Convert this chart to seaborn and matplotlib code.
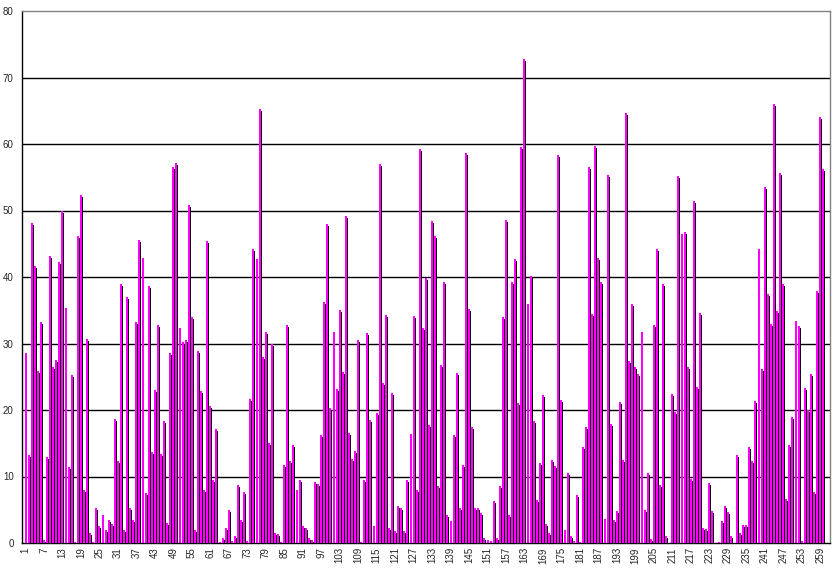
#!/usr/bin/env python3
"""Recreate the magenta column chart (260 bars, 0-80 scale) as out.png."""

import matplotlib

matplotlib.use("Agg")

import matplotlib.pyplot as plt
import numpy as np
import pandas as pd
import seaborn as sns

# bar values (index 1..260)
values = [
    28.5, 13.3, 48.1, 41.6, 25.9, 33.2, 0.4, 12.9, 43.2, 26.4,
    27.5, 42.3, 49.9, 35.3, 11.4, 25.3, 0.2, 46.2, 52.3, 7.9,
    30.7, 1.5, 0.2, 5.2, 2.6, 4.2, 1.9, 3.4, 2.9, 18.6,
    12.4, 39.0, 1.9, 37.0, 5.2, 3.4, 33.2, 45.6, 42.9, 7.5,
    38.6, 13.7, 23.0, 32.8, 13.4, 18.3, 3.0, 28.6, 56.6, 57.2,
    32.3, 30.2, 30.6, 50.8, 34.0, 1.9, 28.9, 22.9, 8.0, 45.4,
    20.6, 9.4, 17.2, 0.2, 0.7, 2.3, 5.0, 0.3, 1.1, 8.7,
    3.4, 7.6, 0.3, 21.6, 44.2, 42.7, 65.3, 28.0, 31.7, 15.1,
    29.9, 1.5, 1.4, 0.2, 11.8, 32.8, 12.4, 14.8, 7.9, 9.4,
    2.6, 2.2, 0.7, 0.4, 9.1, 8.9, 16.3, 36.2, 48.0, 20.3,
    31.8, 23.1, 35.1, 25.7, 49.1, 16.6, 12.7, 13.9, 30.5, 0.2,
    9.5, 31.6, 18.5, 2.6, 19.5, 57.0, 24.0, 34.3, 2.3, 22.5,
    1.8, 5.6, 5.3, 1.8, 9.5, 16.4, 34.2, 8.0, 59.3, 32.4,
    39.9, 17.8, 48.4, 46.2, 8.5, 26.7, 39.2, 4.2, 3.3, 16.2,
    25.5, 5.3, 11.7, 58.7, 35.2, 17.5, 5.2, 5.2, 4.5, 0.7,
    0.5, 0.3, 6.3, 0.7, 8.6, 34.0, 48.5, 4.2, 39.2, 42.7,
    21.0, 59.5, 72.8, 35.9, 40.2, 18.3, 6.5, 12.0, 22.2, 2.9,
    1.5, 12.5, 11.6, 58.3, 21.5, 1.9, 10.5, 1.0, 0.3, 7.2,
    0.2, 14.4, 17.5, 56.6, 34.4, 59.7, 42.9, 39.2, 3.6, 55.4,
    17.9, 3.4, 4.8, 21.2, 12.5, 64.7, 27.4, 36.0, 26.5, 25.4,
    31.8, 5.0, 10.6, 0.6, 32.8, 44.2, 8.7, 38.9, 1.0, 0.0,
    22.4, 19.7, 55.2, 46.4, 46.7, 26.4, 9.6, 51.5, 23.5, 34.6,
    2.3, 2.1, 9.0, 4.8, 0.0, 0.2, 3.3, 5.6, 4.6, 1.0,
    0.0, 13.2, 1.5, 2.7, 2.7, 14.4, 12.4, 21.3, 44.2, 26.1,
    53.6, 37.4, 33.0, 66.0, 34.9, 55.6, 39.0, 6.6, 14.7, 19.0,
    33.4, 32.7, 0.3, 23.3, 20.0, 25.4, 7.6, 37.9, 64.0, 56.3,
]
positions = list(range(1, len(values) + 1))
label_positions = positions[::6]
y_ticks = [0, 10, 20, 30, 40, 50, 60, 70, 80]


def main() -> None:
    sns.set_style("white")
    plt.rcParams["font.family"] = ["Liberation Sans", "DejaVu Sans"]

    df = pd.DataFrame({"pos": positions, "value": values})
    # Excel-like drop shadow: black bar a little to the right and lower
    shadow = df.assign(pos=df["pos"] + 0.25, value=(df["value"] - 0.3).clip(lower=0))

    fig = plt.figure(figsize=(8.38, 5.69), dpi=100)
    ax = fig.add_axes([22 / 838, 26 / 569, 808 / 838, 532 / 569])

    for y in y_ticks[1:-1]:
        ax.axhline(y, color="black", linewidth=1.0, zorder=0)

    sns.barplot(data=shadow, x="pos", y="value", native_scale=True, width=0.75,
                color="black", saturation=1, linewidth=0, ax=ax, zorder=2)
    sns.barplot(data=df, x="pos", y="value", native_scale=True, width=0.65,
                color="#ff00ff", saturation=1, linewidth=0, ax=ax, zorder=3)

    ax.set_xlim(-0.14, 262.2)
    ax.set_ylim(0, 80)
    ax.set_yticks(y_ticks)
    ax.set_yticklabels([str(t) for t in y_ticks], fontsize=7)
    ax.set_xticks(np.array(positions) - 0.5, minor=True)
    ax.set_xticks(label_positions)
    ax.set_xticklabels([str(p) for p in label_positions], rotation=90, fontsize=7)
    ax.tick_params(axis="x", which="major", length=0, pad=3)
    ax.tick_params(axis="x", which="minor", length=4, width=0.8, color="black", direction="out")
    ax.tick_params(axis="y", length=4, width=0.8, color="black", direction="out", pad=2)
    ax.set_xlabel("")
    ax.set_ylabel("")

    for side in ("left", "bottom"):
        ax.spines[side].set_color("black")
        ax.spines[side].set_linewidth(1.0)
    for side in ("top", "right"):
        ax.spines[side].set_visible(True)
        ax.spines[side].set_color("#808080")
        ax.spines[side].set_linewidth(1.0)

    fig.savefig("out.png", dpi=100, facecolor="white")
    plt.close(fig)


if __name__ == "__main__":
    main()
